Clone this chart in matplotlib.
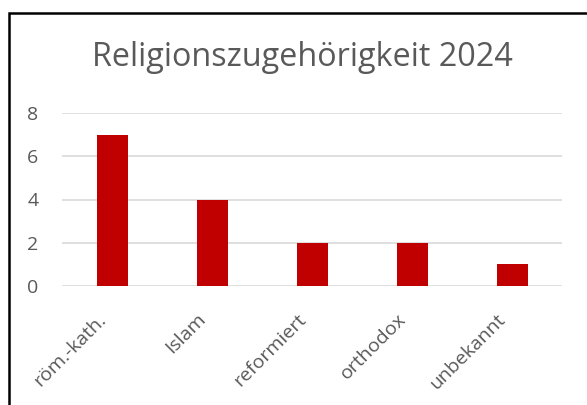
import matplotlib.pyplot as plt
from matplotlib.patches import Rectangle
from matplotlib.transforms import ScaledTranslation

# Daten
kategorien = ['röm.-kath.', 'Islam', 'reformiert', 'orthodox', 'unbekannt']
anzahl = [7, 4, 2, 2, 1]
y_ticks = [0, 2, 4, 6, 8]

plt.rcParams['font.family'] = ['Open Sans', 'DejaVu Sans']
grau = '#595959'

fig = plt.figure(figsize=(5.87, 4.05), dpi=100)
ax = fig.add_axes([62 / 587, 119 / 405, 500 / 587, 173 / 405])

ax.bar(range(len(kategorien)), anzahl, width=0.31, color='#C00000', zorder=3)
ax.set_xlim(-0.5, len(kategorien) - 0.5)
ax.set_ylim(0, 8)
ax.set_yticks(y_ticks)
ax.set_xticks(range(len(kategorien)))
ax.set_xticklabels(kategorien, rotation=45, ha='right', va='center', rotation_mode='anchor')
ax.tick_params(axis='both', length=0, colors=grau, labelsize=14)
ax.tick_params(axis='x', pad=22)
ax.tick_params(axis='y', pad=17)
# Beschriftungen etwas nach links schieben
verschiebung = ScaledTranslation(-0.09, 0, fig.dpi_scale_trans)
for lab in ax.get_xticklabels():
    lab.set_transform(lab.get_transform() + verschiebung)
ax.grid(axis='y', color='#D9D9D9', linewidth=1.2, zorder=0)
for s in ax.spines.values():
    s.set_visible(False)

fig.text(302 / 587, 1 - 57 / 405, 'Religionszugehörigkeit 2024', ha='center', va='center',
         fontsize=23.3, color=grau)

# Rahmen wie im Original (rechts und unten abgeschnitten)
fig.patches.append(Rectangle((9 / 587, -0.1), 1.0, 1 - 13 / 405 + 0.1, transform=fig.transFigure,
                             fill=False, edgecolor='black', linewidth=1.8))

fig.savefig('out.png', dpi=100)
